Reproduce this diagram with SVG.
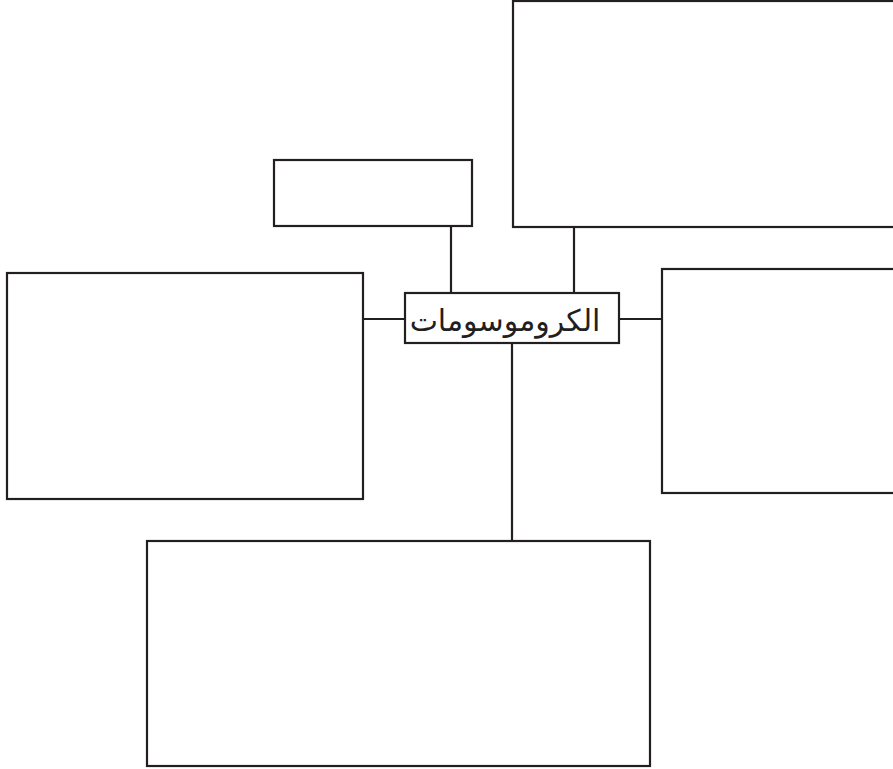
<svg xmlns="http://www.w3.org/2000/svg" width="893" height="769" viewBox="0 0 893 769">
<style>
.box{fill:#fff;stroke:#231f20;stroke-width:2.2}
.ln{stroke:#231f20;stroke-width:2.2;fill:none}
.lbl{font-family:"DejaVu Sans","Noto Sans",sans-serif;font-size:30px;fill:#231f20}
</style>
<rect width="893" height="769" fill="#fff"/>
<g id="connectors">
<line class="ln" x1="451" y1="226" x2="451" y2="293"/>
<line class="ln" x1="574" y1="227" x2="574" y2="293"/>
<line class="ln" x1="363" y1="319" x2="405" y2="319"/>
<line class="ln" x1="619" y1="319" x2="662" y2="319"/>
<line class="ln" x1="512" y1="343" x2="512" y2="541"/>
</g>
<g id="top-right"><rect class="box" x="513" y="1" width="390" height="226"/></g>
<g id="top-left"><rect class="box" x="274" y="160" width="198" height="66"/></g>
<g id="left"><rect class="box" x="7" y="273" width="356" height="226"/></g>
<g id="right"><rect class="box" x="662" y="269" width="241" height="224"/></g>
<g id="bottom"><rect class="box" x="147" y="541" width="503" height="225"/></g>
<g id="center"><rect class="box" x="405" y="293" width="214" height="50"/>
<text class="lbl" x="505" y="331" text-anchor="middle" direction="rtl">الكروموسومات</text></g>
</svg>
